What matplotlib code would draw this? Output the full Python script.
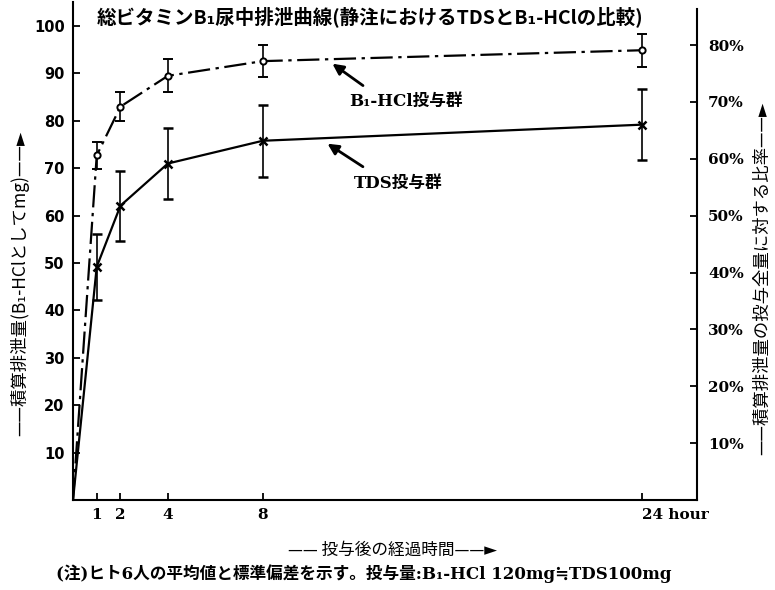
import matplotlib.pyplot as plt
from matplotlib.transforms import ScaledTranslation

plt.rcParams['font.family'] = ['Noto Sans CJK JP', 'DejaVu Sans']
SERIF = ['DejaVu Serif', 'Noto Sans CJK JP']

# データ(時間, mg)
hours = [0, 1, 2, 4, 8, 24]
b1_mean = [0, 72.7, 83.0, 89.5, 92.6, 94.9]
b1_sd = [0, 2.9, 3.0, 3.5, 3.4, 3.5]
tds_mean = [0, 49.2, 62.1, 71.0, 75.8, 79.2]
tds_sd = [0, 6.9, 7.4, 7.4, 7.6, 7.5]
xticks = [1, 2, 4, 8, 24]
xticklabels = ['1', '2', '4', '8', '24 hour']
yticks = [10, 20, 30, 40, 50, 60, 70, 80, 90, 100]
pct_ticks = [10, 20, 30, 40, 50, 60, 70, 80]
total_dose = 120  # mg = 100%

fig = plt.figure(figsize=(7.75, 5.9), dpi=100)
ax = fig.add_axes([0.0942, 0.1525, 0.805, 0.8435])
xmax, ymax = 26.3, 105
ax.set_xlim(0, xmax)
ax.set_ylim(0, ymax)

# B1-HCl 群 (一点鎖線)
ax.plot(hours, b1_mean, color='black', lw=1.6, dashes=(10, 2.5, 1.5, 2.5))
ax.errorbar(hours[1:], b1_mean[1:], yerr=b1_sd[1:], fmt='o', color='black',
            mfc='white', mec='black', ms=4.5, mew=1.4, capsize=3.5, elinewidth=1.2, capthick=1.2)
# TDS 群 (実線)
ax.plot(hours, tds_mean, color='black', lw=1.6)
ax.errorbar(hours[1:], tds_mean[1:], yerr=tds_sd[1:], fmt='x', color='black',
            ms=6, mew=1.8, capsize=3.5, elinewidth=1.2, capthick=1.2)

# 軸
ax.spines['top'].set_visible(False)
ax.spines['right'].set_visible(False)
for s in ['left', 'bottom']:
    ax.spines[s].set_linewidth(1.5)
ax.set_xticks(xticks)
ax.set_xticklabels(xticklabels, family=SERIF, fontweight='bold', fontsize=11)
lab = ax.get_xticklabels()[-1]
lab.set_horizontalalignment('left')
lab.set_transform(lab.get_transform() + ScaledTranslation(-10 / 72, 0, fig.dpi_scale_trans))
ax.set_yticks(yticks)
ax.set_yticklabels([str(v) for v in yticks], family=['DejaVu Sans'], fontweight='bold', fontsize=10.5)
ax.tick_params(direction='in', length=5, width=1.3, pad=6)

ax2 = ax.twinx()
ax2.set_ylim(0, ymax / total_dose * 100)
ax2.spines['top'].set_visible(False)
ax2.spines['left'].set_visible(False)
ax2.spines['bottom'].set_visible(False)
ax2.spines['right'].set_linewidth(1.5)
ax2.spines['right'].set_bounds(0, 103.5 / total_dose * 100)
ax2.set_yticks(pct_ticks)
ax2.set_yticklabels([f'{v}%' for v in pct_ticks], family=SERIF, fontweight='bold', fontsize=11)
ax2.tick_params(direction='in', length=5, width=1.3, pad=8)

# 注記
ax.annotate('', xy=(10.84, 92.4), xytext=(12.32, 87.1),
            arrowprops=dict(arrowstyle='-|>', color='black', lw=2, mutation_scale=16))
ax.text(14.05, 84, 'B₁-HCl投与群', family=SERIF, fontweight='bold', fontsize=12,
        ha='center', va='center')
ax.annotate('', xy=(10.63, 75.5), xytext=(12.32, 70),
            arrowprops=dict(arrowstyle='-|>', color='black', lw=2, mutation_scale=16))
ax.text(13.7, 66.9, 'TDS投与群', family=SERIF, fontweight='bold', fontsize=12,
        ha='center', va='center')

# タイトル・ラベル
fig.text(370 / 775, 1 - 17 / 590, '総ビタミンB₁尿中排泄曲線(静注におけるTDSとB₁-HClの比較)',
         fontsize=14, fontweight='bold', ha='center', va='center')
fig.text(20 / 775, 1 - 283 / 590, '——積算排泄量(B₁-HClとしてmg)——►', rotation=90,
         fontsize=12.5, ha='center', va='center', family=['Noto Sans CJK JP', 'DejaVu Sans'])
fig.text(762 / 775, 1 - 278 / 590, '——積算排泄量の投与全量に対する比率——►', rotation=90,
         fontsize=12.5, ha='center', va='center', family=['Noto Sans CJK JP', 'DejaVu Sans'])
fig.text(392 / 775, 1 - 550 / 590, '—— 投与後の経過時間——►', fontsize=12,
         ha='center', va='center', family=['Noto Sans CJK JP', 'DejaVu Sans'])
fig.text(364 / 775, 1 - 574 / 590, '(注)ヒト6人の平均値と標準偏差を示す。投与量:B₁-HCl 120mg≒TDS100mg',
         family=SERIF, fontsize=12, fontweight='bold', ha='center', va='center')

fig.savefig('out.png', dpi=100)
